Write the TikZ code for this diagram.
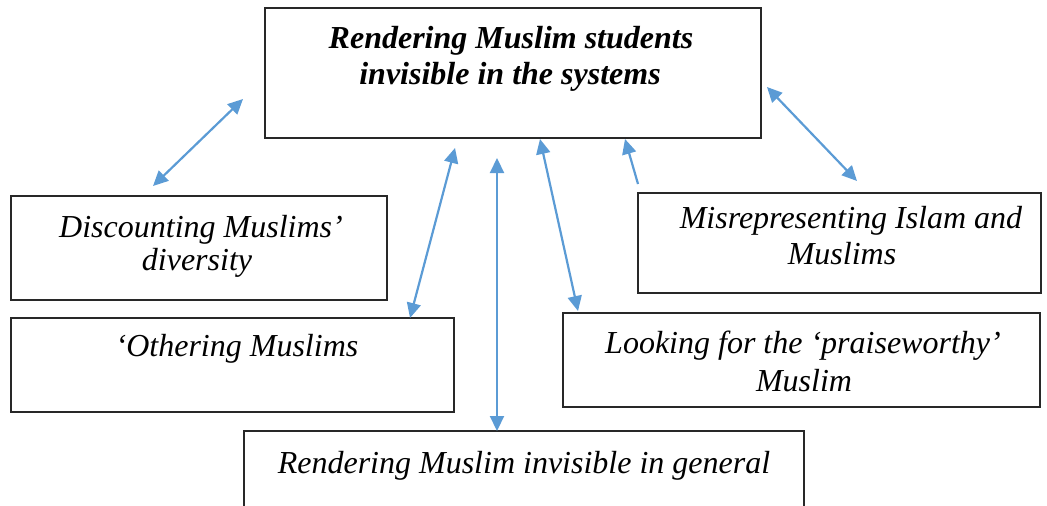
\documentclass[tikz,border=0pt]{standalone}
\usepackage{fontspec}
\setmainfont{Liberation Serif}
\usetikzlibrary{arrows.meta}
\definecolor{linkblue}{RGB}{91,155,213}
\definecolor{boxgrey}{RGB}{40,40,40}
\tikzset{
  box/.style={draw=boxgrey, line width=1.6pt, rectangle, inner sep=0pt},
  lbl/.style={font=\fontsize{32}{38}\selectfont\itshape, inner sep=0pt, anchor=base},
  lblbold/.style={lbl, font=\fontsize{32}{38}\selectfont\bfseries\itshape},
  link/.style={draw=linkblue, line width=2.2pt, {Triangle[length=15pt,width=14pt]}-{Triangle[length=15pt,width=14pt]}},
  onelink/.style={draw=linkblue, line width=2.2pt, -{Triangle[length=15pt,width=14pt]}}
}
\begin{document}
\begin{tikzpicture}[x=1pt,y=-1pt]
\useasboundingbox (0,0) rectangle (1047,506);
\begin{scope}
\clip (0,0) rectangle (1047,506);
% boxes
\node[box, minimum width=496pt, minimum height=130pt] (top) at (513,73) {};
\node[box, minimum width=376pt, minimum height=104pt] (disc) at (199,248) {};
\node[box, minimum width=443pt, minimum height=94pt] (oth) at (232.5,365) {};
\node[box, minimum width=403pt, minimum height=100pt] (mis) at (839.5,243) {};
\node[box, minimum width=477pt, minimum height=94pt] (look) at (801.5,360) {};
\node[box, minimum width=560pt, minimum height=80pt] (gen) at (524,471) {};
\end{scope}
% texts (placed by baseline)
\node[lblbold] (t1) at (511,48) {Rendering Muslim students};
\node[lblbold] (t2) at (510,84) {invisible in the systems};
\node[lbl] (d1) at (201,237) {Discounting Muslims’};
\node[lbl] (d2) at (197,270) {diversity};
\node[lbl] (o1) at (237,356) {‘Othering Muslims};
\node[lbl] (m1) at (851,228) {Misrepresenting Islam and};
\node[lbl] (m2) at (842,264) {Muslims};
\node[lbl] (l1) at (803,353) {Looking for the ‘praiseworthy’};
\node[lbl] (l2) at (804,391) {Muslim};
\node[lbl] (g1) at (524,473) {Rendering Muslim invisible in general};
% connector end points
\coordinate (a1s) at (153,186);
\coordinate (a1e) at (243,99);
\coordinate (a2s) at (410,318);
\coordinate (a2e) at (455,148);
\coordinate (a3s) at (497,431);
\coordinate (a3e) at (497,158);
\coordinate (a4s) at (540,139);
\coordinate (a4e) at (578,311);
\coordinate (a5s) at (638,184);
\coordinate (a5e) at (625,139);
\coordinate (a6s) at (767,87);
\coordinate (a6e) at (857,181);
% connectors
\draw[link] (a1s) -- (a1e);
\draw[link] (a2s) -- (a2e);
\draw[link] (a3s) -- (a3e);
\draw[link] (a4s) -- (a4e);
\draw[onelink] (a5s) -- (a5e);
\draw[link] (a6s) -- (a6e);
\end{tikzpicture}
\end{document}
